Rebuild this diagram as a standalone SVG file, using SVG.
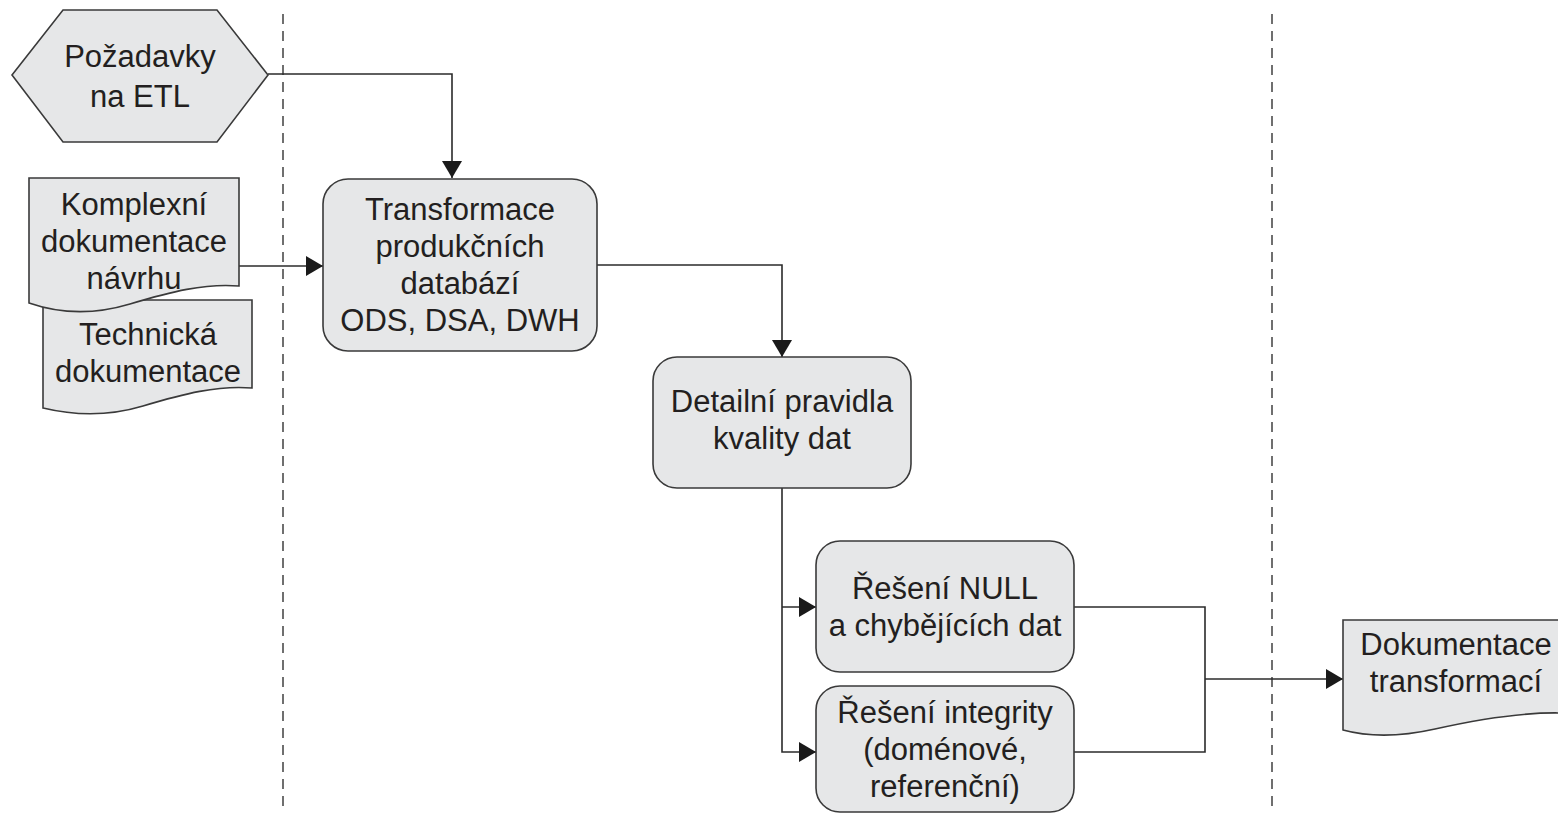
<svg xmlns="http://www.w3.org/2000/svg" width="1558" height="815" viewBox="0 0 1558 815">
<defs>
<style>
.shape{fill:#e6e7e8;stroke:#3a3a3a;stroke-width:1.6}
.t{font-family:"Liberation Sans",Arial,sans-serif;font-size:31px;fill:#231f20;text-anchor:middle}
.c{fill:none;stroke:#2b2b2b;stroke-width:1.6}
.dash{fill:none;stroke:#333;stroke-width:1.4;stroke-dasharray:10 7}
</style>
<marker id="arr" markerUnits="userSpaceOnUse" markerWidth="18" markerHeight="22" refX="17" refY="10" orient="auto">
<path d="M0,0 L17,10 L0,20 Z" fill="#1a1a1a"/>
</marker>
</defs>
<rect width="1558" height="815" fill="#ffffff"/>
<g id="separators">
<line class="dash" x1="283" y1="14" x2="283" y2="808"/>
<line class="dash" x1="1272" y1="14" x2="1272" y2="808"/>
</g>
<g id="connectors">
<polyline class="c" points="268,74 452,74 452,178" marker-end="url(#arr)"/>
<line class="c" x1="239" y1="266" x2="323" y2="266" marker-end="url(#arr)"/>
<polyline class="c" points="597,265 782,265 782,357" marker-end="url(#arr)"/>
<polyline class="c" points="782,488 782,752 816,752" marker-end="url(#arr)"/>
<line class="c" x1="782" y1="607" x2="816" y2="607" marker-end="url(#arr)"/>
<polyline class="c" points="1074,607 1205,607 1205,752 1074,752"/>
<line class="c" x1="1205" y1="679" x2="1343" y2="679" marker-end="url(#arr)"/>
</g>
<g id="pozadavky">
<polygon class="shape" points="12,75 63,10 217,10 268,75 217,142 63,142"/>
<text class="t" x="140" y="67">Požadavky</text>
<text class="t" x="140" y="107">na ETL</text>
</g>
<g id="technicka">
<path class="shape" d="M43,300 H252 V388 C218,385 183,394 143,406 C103,418 68,414 43,408 Z"/>
<text class="t" x="148" y="345">Technická</text>
<text class="t" x="148" y="382">dokumentace</text>
</g>
<g id="komplexni">
<path class="shape" d="M29,178 H239 V286 C205,283 170,292 130,304 C90,316 55,312 29,303 Z"/>
<text class="t" x="134" y="215">Komplexní</text>
<text class="t" x="134" y="252">dokumentace</text>
<text class="t" x="134" y="289">návrhu</text>
</g>
<g id="transformace">
<rect class="shape" x="323" y="179" width="274" height="172" rx="25"/>
<text class="t" x="460" y="220">Transformace</text>
<text class="t" x="460" y="257">produkčních</text>
<text class="t" x="460" y="294">databází</text>
<text class="t" x="460" y="331">ODS, DSA, DWH</text>
</g>
<g id="detailni">
<rect class="shape" x="653" y="357" width="258" height="131" rx="24"/>
<text class="t" x="782" y="412">Detailní pravidla</text>
<text class="t" x="782" y="449">kvality dat</text>
</g>
<g id="null">
<rect class="shape" x="816" y="541" width="258" height="131" rx="24"/>
<text class="t" x="945" y="599">Řešení NULL</text>
<text class="t" x="945" y="636">a chybějících dat</text>
</g>
<g id="integrita">
<rect class="shape" x="816" y="686" width="258" height="126" rx="24"/>
<text class="t" x="945" y="723">Řešení integrity</text>
<text class="t" x="945" y="760">(doménové,</text>
<text class="t" x="945" y="797">referenční)</text>
</g>
<g id="dokumentace">
<path class="shape" d="M1343,620 H1562 V713 C1520,712 1475,720 1435,729 C1395,738 1365,736 1343,730 Z"/>
<text class="t" x="1456" y="655">Dokumentace</text>
<text class="t" x="1456" y="692">transformací</text>
</g>
</svg>
